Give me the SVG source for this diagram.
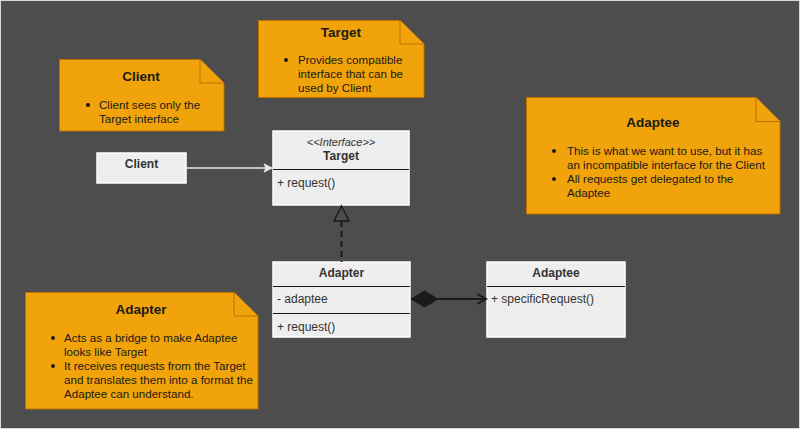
<svg xmlns="http://www.w3.org/2000/svg" width="800" height="429" viewBox="0 0 800 429">
<defs>
<style>
.note{fill:#f0a30a;stroke:#bd7000;stroke-width:1}
.fold{fill:#f0a30a;stroke:#bd7000;stroke-width:1}
.nt{font-family:"Liberation Sans",Arial,sans-serif;font-size:13.5px;font-weight:bold;fill:#1a1a1a;text-anchor:middle}
.nb{font-family:"Liberation Sans",Arial,sans-serif;font-size:11.6px;fill:#1a1a1a}
.cls{fill:#eeeeee;stroke:#ffffff;stroke-width:1.5}
.div{stroke:#1a1a1a;stroke-width:1}
.ct{font-family:"Liberation Sans",Arial,sans-serif;font-size:12px;font-weight:bold;fill:#333333;text-anchor:middle}
.cm{font-family:"Liberation Sans",Arial,sans-serif;font-size:12px;fill:#333333}
.ci{font-family:"Liberation Sans",Arial,sans-serif;font-size:11px;font-style:italic;fill:#333333;text-anchor:middle}
</style>
<marker id="blk" markerWidth="10" markerHeight="10" refX="9" refY="5" orient="auto" markerUnits="userSpaceOnUse">
<path d="M1,1 L9,5 L1,9 L3,5 Z" fill="#e6e6e6" stroke="#e6e6e6" stroke-width="1"/>
</marker>
<marker id="open" markerWidth="12" markerHeight="12" refX="10" refY="6" orient="auto" markerUnits="userSpaceOnUse">
<path d="M1,1 L10,6 L1,11" fill="none" stroke="#1a1a1a" stroke-width="2"/>
</marker>
</defs>
<rect x="0.5" y="0.5" width="799" height="428" fill="#4d4d4d" stroke="#d9d9d9" stroke-width="1"/>

<g id="note-client">
<path class="note" d="M59.5,59.5 H200 L224,83 V131 H59.5 Z"/>
<path class="fold" d="M200,59.5 V83 H224"/>
<text class="nt" x="141" y="81">Client</text>
<circle cx="88" cy="105" r="2" fill="#1a1a1a"/>
<text class="nb" x="99" y="109">Client sees only the</text>
<text class="nb" x="99" y="123">Target interface</text>
</g>

<g id="note-target">
<path class="note" d="M258.5,20.5 H400 L424,44 V97.5 H258.5 Z"/>
<path class="fold" d="M400,20.5 V44 H424"/>
<text class="nt" x="341" y="37">Target</text>
<circle cx="286" cy="60" r="2" fill="#1a1a1a"/>
<text class="nb" x="298" y="64">Provides compatible</text>
<text class="nb" x="298" y="78">interface that can be</text>
<text class="nb" x="298" y="92">used by Client</text>
</g>

<g id="note-adaptee">
<path class="note" d="M526.5,97.5 H756 L780,121.5 V214 H526.5 Z"/>
<path class="fold" d="M756,97.5 V121.5 H780"/>
<text class="nt" x="653" y="127">Adaptee</text>
<circle cx="554" cy="151" r="2" fill="#1a1a1a"/>
<text class="nb" x="567" y="155">This is what we want to use, but it has</text>
<text class="nb" x="567" y="169">an incompatible interface for the Client</text>
<circle cx="554" cy="179" r="2" fill="#1a1a1a"/>
<text class="nb" x="567" y="183">All requests get delegated to the</text>
<text class="nb" x="567" y="197">Adaptee</text>
</g>

<g id="note-adapter">
<path class="note" d="M25.5,292.5 H234 L258,316 V409 H25.5 Z"/>
<path class="fold" d="M234,292.5 V316 H258"/>
<text class="nt" x="141" y="314">Adapter</text>
<circle cx="53" cy="338" r="2" fill="#1a1a1a"/>
<text class="nb" x="64" y="342">Acts as a bridge to make Adaptee</text>
<text class="nb" x="64" y="356">looks like Target</text>
<circle cx="53" cy="366" r="2" fill="#1a1a1a"/>
<text class="nb" x="64" y="370">It receives requests from the Target</text>
<text class="nb" x="64" y="384">and translates them into a format the</text>
<text class="nb" x="64" y="398">Adaptee can understand.</text>
</g>

<g id="class-client">
<rect class="cls" x="97" y="153" width="89" height="30"/>
<text class="ct" x="141.5" y="168">Client</text>
</g>

<g id="class-target">
<rect class="cls" x="273" y="131" width="136" height="74"/>
<line class="div" x1="273" y1="169.5" x2="409" y2="169.5"/>
<text class="ci" x="341" y="146">&lt;&lt;Interface&gt;&gt;</text>
<text class="ct" x="341" y="160">Target</text>
<text class="cm" x="277" y="187">+ request()</text>
</g>

<g id="class-adapter">
<rect class="cls" x="273" y="262" width="137" height="75"/>
<line class="div" x1="273" y1="286.5" x2="410" y2="286.5"/>
<line class="div" x1="273" y1="313.5" x2="410" y2="313.5"/>
<text class="ct" x="341.5" y="277">Adapter</text>
<text class="cm" x="277" y="303">- adaptee</text>
<text class="cm" x="277" y="331">+ request()</text>
</g>

<g id="class-adaptee">
<rect class="cls" x="487" y="262" width="138" height="75"/>
<line class="div" x1="487" y1="286.5" x2="625" y2="286.5"/>
<text class="ct" x="556" y="277">Adaptee</text>
<text class="cm" x="491" y="303">+ specificRequest()</text>
</g>

<g id="connectors">
<line x1="187" y1="168" x2="272" y2="168" stroke="#e6e6e6" stroke-width="1.5" marker-end="url(#blk)"/>
<line x1="341.5" y1="221" x2="341.5" y2="262" stroke="#1a1a1a" stroke-width="2" stroke-dasharray="6,4"/>
<path d="M341.5,206 L349,221 L334,221 Z" fill="#4d4d4d" stroke="#1a1a1a" stroke-width="1.5"/>
<path d="M411,299 L424.5,291 L438,299 L424.5,307 Z" fill="#1a1a1a" stroke="#1a1a1a" stroke-width="1"/>
<line x1="438" y1="299" x2="486" y2="299" stroke="#1a1a1a" stroke-width="2" marker-end="url(#open)"/>
</g>
</svg>
